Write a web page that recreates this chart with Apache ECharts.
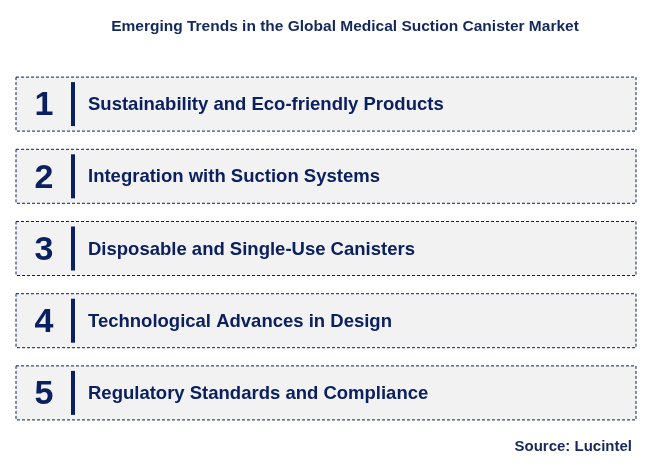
<!DOCTYPE html>
<html>
<head>
<meta charset="utf-8">
<script src="https://cdn.jsdelivr.net/npm/echarts@6/dist/echarts.min.js"></script>
<style>html,body{margin:0;padding:0;background:#fff}#main{width:661px;height:465px}</style>
</head>
<body>
<div id="main"></div>
<script>
var titleText = 'Emerging Trends in the Global Medical Suction Canister Market';
var sourceText = 'Source: Lucintel';
var numbers = ['1', '2', '3', '4', '5'];
var trends = [
    'Sustainability and Eco-friendly Products',
    'Integration with Suction Systems',
    'Disposable and Single-Use Canisters',
    'Technological Advances in Design',
    'Regulatory Standards and Compliance'
];
var navy = '#0b2060';

var chart = echarts.init(document.getElementById('main'));
chart.setOption({
    backgroundColor: '#fff',
    title: [
        {text: titleText, left: 340, top: 14, textAlign: 'center',
         textStyle: {fontFamily: 'Arial', fontSize: 15.5, fontWeight: 'bold', color: '#14285c'}},
        {text: sourceText, right: 24, top: 434,
         textStyle: {fontFamily: 'Arial', fontSize: 15, fontWeight: 'bold', color: '#14285c'}}
    ],
    grid: {left: 16, right: 25, top: 68, bottom: 36},
    xAxis: {type: 'value', min: 0, max: 1, show: false},
    yAxis: {type: 'category', data: numbers, inverse: true, show: false},
    series: [{
        type: 'custom',
        data: numbers.map(function (n, i) { return [0, i]; }),
        encode: {x: 0, y: 1},
        renderItem: function (params, api) {
            var i = api.value(1);
            var p = api.coord([0, i]);
            var p2 = api.coord([1, i]);
            var h = 54;
            return {
                type: 'group',
                children: [
                    {type: 'rect', shape: {x: p[0], y: p[1] - h / 2, width: p2[0] - p[0], height: h},
                     style: {fill: '#f2f2f2', stroke: navy, lineWidth: 1, lineDash: [3, 2]}},
                    {type: 'text', style: {x: p[0] + 28, y: p[1] + 2, text: numbers[i], fill: navy,
                     font: 'bold 34px Arial', align: 'center', verticalAlign: 'middle'}},
                    {type: 'rect', shape: {x: p[0] + 55, y: p[1] - 22, width: 4, height: 44},
                     style: {fill: navy}},
                    {type: 'text', style: {x: p[0] + 72, y: p[1] + 1, text: trends[i], fill: navy,
                     font: 'bold 18.5px Arial', align: 'left', verticalAlign: 'middle'}}
                ]
            };
        }
    }]
});
</script>
</body>
</html>
